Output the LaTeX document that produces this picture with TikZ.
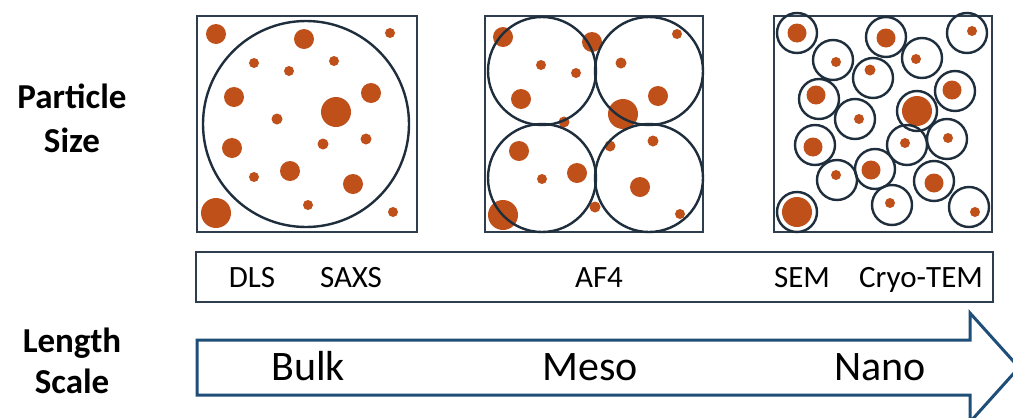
\documentclass[tikz,border=0pt]{standalone}
\usepackage{fontspec}
\setmainfont{Carlito}
\definecolor{part}{HTML}{C0501A}
\definecolor{ring}{HTML}{1E2E3C}
\definecolor{boxc}{HTML}{2E3E4E}
\definecolor{arrowc}{HTML}{1F4E79}
\tikzset{
  framebox/.style={draw=boxc, line width=2pt},
  ringc/.style={draw=ring, line width=2.4pt},
  dot/.style={fill=part},
  method/.style={font=\fontsize{31}{31}\selectfont, anchor=base, inner sep=0pt},
  scalelab/.style={font=\fontsize{42}{42}\selectfont, anchor=base, inner sep=0pt},
  sidelab/.style={font=\bfseries\fontsize{35}{35}\selectfont, anchor=base, inner sep=0pt}
}
\begin{document}
\begin{tikzpicture}[x=1pt,y=-1pt]
\useasboundingbox (0,0) rectangle (1013,418);
\clip (0,0) rectangle (1013,418);
\fill[white] (0,0) rectangle (1013,418);

% Box 1 (bulk)
\draw[framebox] (197,16) rectangle (417,232);
\draw[ringc] (306,124) circle (103);
\foreach \x/\y/\r in {216/34/10, 304/39/10, 390/33/5, 254/63/5, 334/61/5, 289/71/5,
  234/97/10, 371/93/10, 336/112/15, 277/119/5.5, 232/148/10, 323/144/5.5, 366/139/5.5,
  254/177/5, 290/171/10, 353/184/10, 308/205/5, 216/213/15, 393/212/5}
  \fill[dot] (\x,\y) circle (\r);

% Box 2 (meso)
\draw[framebox] (485,16) rectangle (703,232);
\foreach \x/\y/\r in {503/37/10, 592/42/10, 677/34/5, 541/65/5, 576/73/5, 621/63/5.5,
  521/99/10, 658/96/10, 623/114/15, 564/122/5.5, 519/151/10, 610/146/5.5, 653/141/5.5,
  542/179/5, 577/173/10, 640/187/10, 595/207/5.5, 503/215/15, 680/214/5}
  \fill[dot] (\x,\y) circle (\r);
\foreach \x/\y in {542/71, 649/71, 542/178, 649/178}
  \draw[ringc] (\x,\y) circle (54);

% Box 3 (nano)
\draw[framebox] (774,16) rectangle (992,232);
\foreach \cx/\cy/\px/\py/\r in {797/33/797/33/9.5, 886/37/886/38/9.5, 967/33/972/31/5,
  833/60/836/62/5, 922/58/916/59/5, 873/78/870/70/5.5, 819/99/816/95/9.5, 955/91/952/90/9.5,
  917/111/917/111/15, 855/119/859/119/5, 815/145/813/147/9.5, 907/145/905/143/5,
  947/139/948/138/5, 837/180/836/175/5, 875/169/871/170/9.5, 934/181/934/183/9.5,
  892/205/890/203/5, 969/207/975/212/5, 797/212/797/212/15}
  {\draw[ringc] (\cx,\cy) circle (20);
   \fill[dot] (\px,\py) circle (\r);}

% Side labels
\node[sidelab] (ps1) at (72,108) {Particle};
\node[sidelab] (ps2) at (72,152) {Size};
\node[sidelab] (ls1) at (72,352) {Length};
\node[sidelab] (ls2) at (72,393) {Scale};

% Methods bar
\draw[framebox] (196,252) rectangle (993,302);
\node[method] (dls) at (252,287) {DLS};
\node[method] (saxs) at (351,287) {SAXS};
\node[method] (af4) at (599,287) {AF4};
\node[method] (sem) at (802,287) {SEM};
\node[method] (cryo) at (921,287) {Cryo-TEM};

% Length scale arrow
\draw[draw=arrowc, line width=3pt, line join=miter, fill=white]
  (197,340) -- (970,340) -- (970,313) -- (1019,367.5) -- (970,422) -- (970,395) -- (197,395) -- cycle;
\node[scalelab] (bulk) at (308,380) {Bulk};
\node[scalelab] (meso) at (590,380) {Meso};
\node[scalelab] (nano) at (880,380) {Nano};
\end{tikzpicture}
\end{document}
